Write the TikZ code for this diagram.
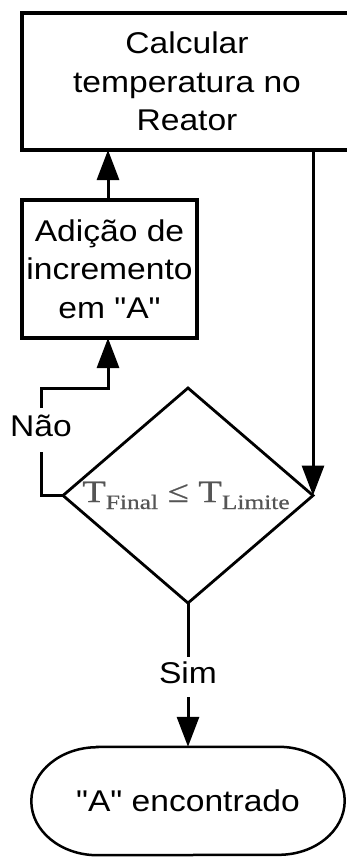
\documentclass[tikz,border=0pt]{standalone}
\usepackage{fontspec}
\usepackage{graphicx}
\setmainfont{Liberation Sans}[FakeStretch=1.12, Ligatures=TeXOff]
\newfontfamily\condfont{Liberation Serif}[FakeStretch=1.24, FakeBold=0.6]
\usetikzlibrary{shapes.geometric,arrows.meta}
\definecolor{condgray}{HTML}{555555}
\begin{document}
\begin{tikzpicture}[x=1pt,y=-1pt,
  box/.style={draw, line width=3.5pt, rectangle, inner sep=0pt, outer sep=0pt, align=center, font=\fontsize{30}{38.5}\selectfont},
  conn/.style={line width=3pt},
  arr/.style={conn, -{Triangle[length=30pt,width=22pt]}},
  lbl/.style={inner sep=0pt, text height=21.5pt, text depth=0pt, font=\fontsize{30}{36}\selectfont}]
\useasboundingbox (0,0) rectangle (346,857);
\node[box, minimum width=330pt, minimum height=137pt] (calc) at (187,81.5) {Calcular\\temperatura no\\Reator};
\node[box, minimum width=175pt, minimum height=138pt] (box2) at (109.5,269) {Adição de\\incremento\\em "A"};
\node[diamond, draw, line width=2.8pt, minimum width=250pt, minimum height=215pt, inner sep=0pt, outer sep=0pt] (cond) at (188,495.5) {};
\node[anchor=base, inner sep=0pt, text=condgray, font=\condfont\fontsize{31}{31}\selectfont] (condtxt) at (186,502)
  {T\raisebox{-7pt}{\fontsize{20.5}{20.5}\selectfont Final} ≤ T\raisebox{-7pt}{\fontsize{20.5}{20.5}\selectfont Limite}};
\node[inner sep=0pt, minimum width=313pt, minimum height=108pt, font=\fontsize{30}{36}\selectfont] (found) at (188,801) {"A" encontrado};
\draw[line width=2.5pt] ([xshift=66pt]found.north west) -- ([xshift=-66pt]found.north east)
  arc[start angle=90, end angle=-90, x radius=66pt, y radius=54pt]
  -- ([xshift=66pt]found.south west)
  arc[start angle=270, end angle=90, x radius=66pt, y radius=54pt] -- cycle;
% connectors
\draw[arr] ([xshift=-1.5pt]box2.north) -- ([xshift=-1.5pt]box2.north |- calc.south);
\draw[arr] ([xshift=126pt]calc.south) -- ([xshift=126pt]calc.south |- cond.east);
\node[lbl] (nao) at (41,426) {Não};
\draw[conn] (cond.west) -| ([yshift=-15pt]nao.south);
\coordinate (nbend) at (108,388);
\draw[arr] ([yshift=7pt]nao.north) |- (nbend) -- (nbend |- box2.south);
\node[lbl] (sim) at (188,672.5) {Sim};
\draw[conn] (cond.south) -- ([yshift=5pt]sim.north);
\draw[arr] ([yshift=-14pt]sim.south) -- (found.north);
\end{tikzpicture}
\end{document}
